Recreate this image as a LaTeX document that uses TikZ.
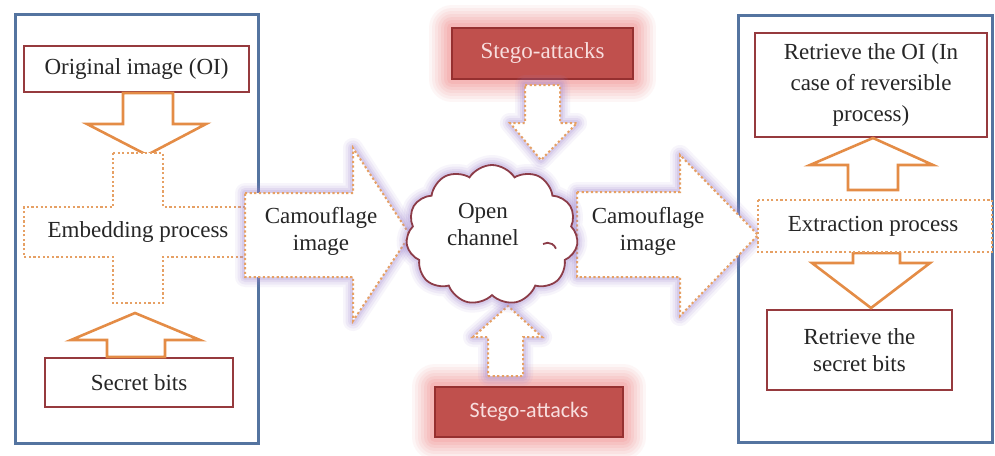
\documentclass[tikz,border=0pt]{standalone}
\usepackage{fontspec}
\setmainfont{Liberation Serif}
\newfontfamily\calib{Carlito}
\usetikzlibrary{shapes.symbols}
\definecolor{bluebox}{RGB}{84,116,160}
\definecolor{redline}{RGB}{150,58,62}
\definecolor{arroworange}{RGB}{228,140,70}
\definecolor{dotorange}{RGB}{230,160,100}
\definecolor{stegofill}{RGB}{192,80,77}
\definecolor{stegoborder}{RGB}{150,48,48}
\definecolor{stegotext}{RGB}{248,222,222}
\definecolor{pinkglow}{RGB}{240,130,130}
\definecolor{purpleglow}{RGB}{160,135,210}
\definecolor{cloudline}{RGB}{140,60,72}
\definecolor{txt}{RGB}{38,38,38}
\begin{document}
\begin{tikzpicture}[x=1pt,y=-1pt,
  font=\fontsize{23}{27}\selectfont, text=txt,
  bluefr/.style={draw=bluebox, line width=3pt},
  redbox/.style={draw=redline, line width=1.8pt, fill=white, align=center, inner sep=0pt},
  glowpink/.style={preaction={draw=pinkglow, line width=46pt, opacity=.07, line join=round},
                   preaction={draw=pinkglow, line width=40pt, opacity=.08, line join=round},
                   preaction={draw=pinkglow, line width=34pt, opacity=.09, line join=round},
                   preaction={draw=pinkglow, line width=28pt, opacity=.1, line join=round},
                   preaction={draw=pinkglow, line width=22pt, opacity=.12, line join=round},
                   preaction={draw=pinkglow, line width=16pt, opacity=.14, line join=round},
                   preaction={draw=pinkglow, line width=10pt, opacity=.16, line join=round}},
  glowpurple/.style={preaction={draw=purpleglow, line width=20pt, opacity=.08, line join=round},
                     preaction={draw=purpleglow, line width=15pt, opacity=.11, line join=round},
                     preaction={draw=purpleglow, line width=10pt, opacity=.14, line join=round},
                     preaction={draw=purpleglow, line width=6pt, opacity=.18, line join=round}},
  stego/.style={draw=stegoborder, line width=1.2pt, fill=stegofill, text=stegotext, inner sep=0pt, glowpink},
  dots/.style={draw=dotorange, line width=2pt, dash pattern=on 2.2pt off 2.4pt, fill=white},
  solidarrow/.style={draw=arroworange, line width=2.6pt, fill=white, line join=miter},
  lbl/.style={align=center, inner sep=0pt}
]
\useasboundingbox (0,0) rectangle (995,455);
\fill[white] (0,0) rectangle (995,455);

% frames
\draw[bluefr] (15,14) rectangle (258,443);
\draw[bluefr] (738,15) rectangle (992,442);

% ---------- left side ----------
\node[redbox, minimum width=225pt, minimum height=46pt] (oi) at (136.5,69) {Original image (OI)};
\node[redbox, minimum width=188pt, minimum height=49pt] (sb) at (139,382.5) {Secret bits};

\draw[solidarrow] (123,93) -- (173,93) -- (173,124) -- (206,124) -- (147,155) -- (87,124) -- (123,124) -- cycle;
\draw[solidarrow] (107,357) -- (165,357) -- (165,340) -- (200,340) -- (135,313) -- (71,340) -- (107,340) -- cycle;

\draw[dots] (113,153) -- (163,153) -- (163,207) -- (250,207) -- (250,257) -- (163,257) -- (163,303)
  -- (113,303) -- (113,257) -- (24,257) -- (24,207) -- (113,207) -- cycle;
\node[lbl] (emb) at (138,232) {Embedding process};

% ---------- centre ----------
\draw[dots, glowpurple] (245,193) -- (353,193) -- (353,148) -- (410,235) -- (353,321) -- (353,277) -- (245,277) -- cycle;
\node[lbl] (cam1) at (321,231) {Camouflage\\image};

\draw[dots, glowpurple] (577,192) -- (680,192) -- (680,155) -- (758,235) -- (680,316) -- (680,277) -- (577,277) -- cycle;
\node[lbl] (cam2) at (648,231) {Camouflage\\image};

\node[stego, minimum width=181pt, minimum height=51pt] (st1) at (542.5,53.5) {Stego-attacks};
\node[stego, minimum width=188pt, minimum height=50pt, font=\calib\fontsize{22}{24}\selectfont] (st2) at (529,412) {Stego-attacks};

\draw[dots, glowpurple] (525,85) -- (560,85) -- (560,123) -- (577,123) -- (541,160) -- (510,123) -- (525,123) -- cycle;
\draw[dots, glowpurple] (488,376) -- (523,376) -- (523,337) -- (542,337) -- (508,306) -- (473,337) -- (488,337) -- cycle;

\node[cloud, cloud puffs=11, cloud puff arc=115, aspect=1.25, draw=cloudline, line width=1.8pt, fill=white,
      minimum width=172pt, minimum height=140pt, inner sep=0pt, glowpurple] (cloud) at (492,235) {};
\draw[cloudline, line width=1.8pt] (543,244) arc[start angle=120, end angle=20, radius=9pt];
\node[lbl] (open) at (483,224) {Open\\channel};

% ---------- right side ----------
\node[redbox, minimum width=232pt, minimum height=104pt, font=\fontsize{23}{31}\selectfont] (roi) at (871,85)
  {Retrieve the OI (In\\case of reversible\\process)};
\node[redbox, minimum width=185pt, minimum height=80pt, font=\fontsize{23}{27}\selectfont] (rsb) at (859.5,350)
  {Retrieve the\\secret bits};

\draw[solidarrow] (848,190) -- (898,190) -- (898,165) -- (933,165) -- (873,138) -- (810,165) -- (848,165) -- cycle;
\draw[solidarrow] (853,253) -- (900,253) -- (900,263) -- (930,263) -- (871,308) -- (812,263) -- (853,263) -- cycle;

\draw[dots] (758,200) rectangle (992,252);
\node[lbl] (ext) at (873,226) {Extraction process};
\end{tikzpicture}
\end{document}
